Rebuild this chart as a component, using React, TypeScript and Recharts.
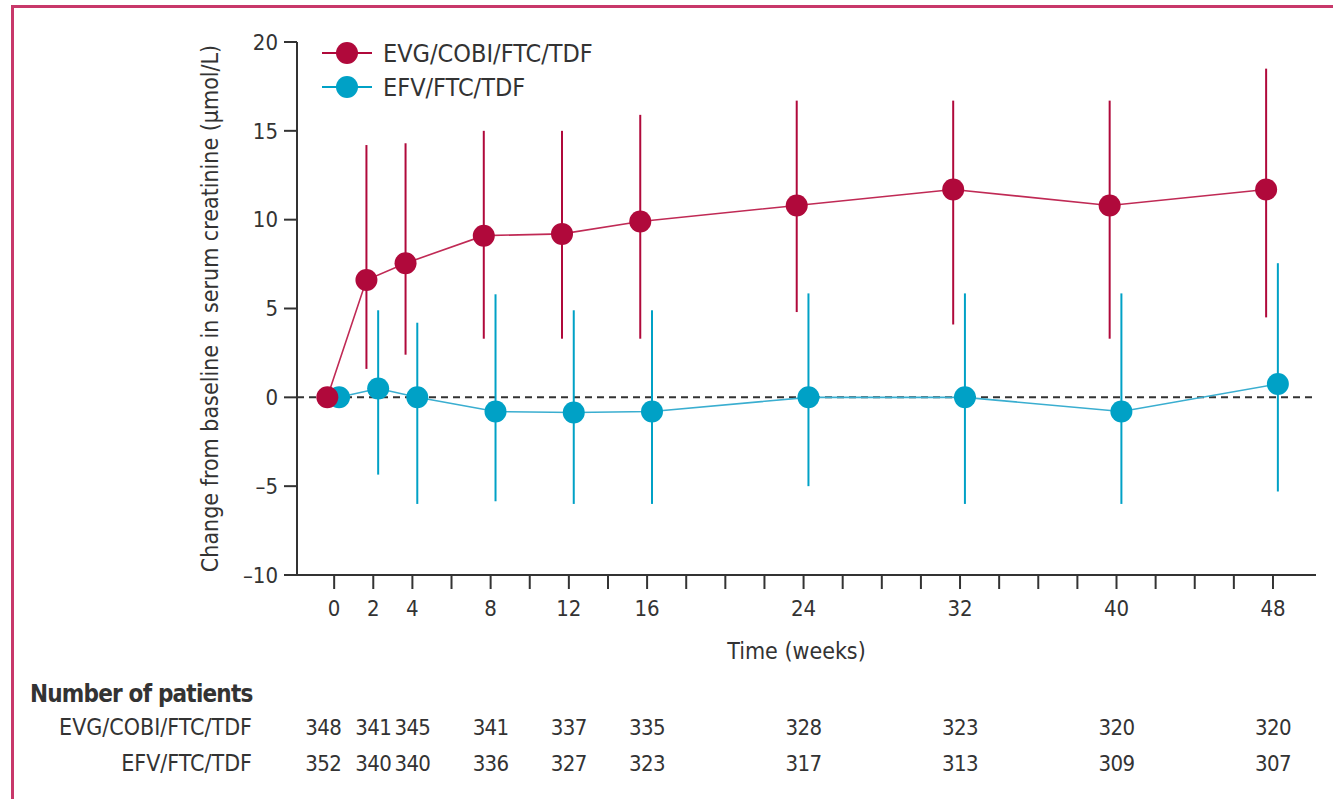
import React from 'react';
import {
  LineChart,
  Line,
  XAxis,
  YAxis,
  ErrorBar,
  ReferenceLine,
} from 'recharts';

// Weeks with a measurement (and a tick label)
const weeks = [0, 2, 4, 8, 12, 16, 24, 32, 40, 48];
// Tick marks are drawn every 2 weeks
const tickWeeks = [0, 2, 4, 6, 8, 10, 12, 14, 16, 18, 20, 22, 24, 26, 28, 30, 32, 34, 36, 38, 40, 42, 44, 46, 48];
const yTicks = [-10, -5, 0, 5, 10, 15, 20];

// EVG/COBI/FTC/TDF: mean change and error-bar limits (µmol/L)
const evgMean = [0, 6.6, 7.55, 9.1, 9.2, 9.9, 10.8, 11.7, 10.8, 11.7];
const evgUpper = [0, 14.2, 14.3, 15.0, 15.0, 15.9, 16.7, 16.7, 16.7, 18.5];
const evgLower = [0, 1.6, 2.4, 3.3, 3.3, 3.3, 4.8, 4.1, 3.3, 4.5];

// EFV/FTC/TDF
const efvMean = [0, 0.5, 0, -0.8, -0.85, -0.8, 0, 0, -0.8, 0.75];
const efvUpper = [0, 4.9, 4.2, 5.8, 4.9, 4.9, 5.85, 5.85, 5.85, 7.55];
const efvLower = [0, -4.35, -6.0, -5.85, -6.0, -6.0, -5.0, -6.0, -6.0, -5.3];

// Number of patients at each visit
const evgN = [348, 341, 345, 341, 337, 335, 328, 323, 320, 320];
const efvN = [352, 340, 340, 336, 327, 323, 317, 313, 309, 307];

const RED = '#b0093b';
const RED_LINE = '#c02a55';
const BLUE = '#00a1c6';
const BLUE_LINE = '#3aaed0';
const INK = '#333333';
const FRAME = '#c8386a';
const FONT = "'DejaVu Sans Condensed', 'Liberation Sans Narrow', 'Liberation Sans', sans-serif";
const X_DOMAIN: [number, number] = [-1.9, 50.2];

// the two arms are drawn slightly apart so the bars don't overlap
const EVG_SHIFT = -0.35;
const EFV_SHIFT = 0.25;

const buildSeries = (mean: number[], upper: number[], lower: number[], shift: number) =>
  weeks.map((w, i) => ({
    x: w + shift,
    y: mean[i],
    err: [mean[i] - lower[i], upper[i] - mean[i]],
  }));

const evgData = buildSeries(evgMean, evgUpper, evgLower, EVG_SHIFT);
const efvData = buildSeries(efvMean, efvUpper, efvLower, EFV_SHIFT);
// rows of the "number of patients" table, one entry per visit
const countRows = weeks.map((w, i) => ({ x: w, y: 0, evg: evgN[i], efv: efvN[i] }));

const CountTick = ({ x, y, payload, counts }: any) => {
  const i = weeks.indexOf(payload.value);
  if (i < 0) return null;
  return (
    <text
      x={x + (payload.value === 0 ? -11 : 0)}
      y={y}
      dy="0.71em"
      textAnchor="middle"
      fill={INK}
      fontSize={22}
      letterSpacing={-0.6}
      fontFamily={FONT}
    >
      {counts[i]}
    </text>
  );
};

const TimeTitle = ({ viewBox }: any) => (
  <text
    x={viewBox.x + viewBox.width / 2 - 10}
    y={viewBox.y + 84}
    textAnchor="middle"
    fill={INK}
    fontSize={23}
    fontFamily={FONT}
  >
    Time (weeks)
  </text>
);

const YTitle = ({ viewBox }: any) => {
  const cx = viewBox.x + 68;
  const cy = viewBox.y + viewBox.height / 2;
  return (
    <text
      x={cx}
      y={cy}
      transform={`rotate(-90, ${cx}, ${cy})`}
      textAnchor="middle"
      fill={INK}
      fontSize={23}
      fontFamily={FONT}
    >
      Change from baseline in serum creatinine (µmol/L)
    </text>
  );
};

const LegendRow = ({ color, label }: { color: string; label: string }) => (
  <div style={{ display: 'flex', alignItems: 'center', height: 34 }}>
    <svg width={52} height={24} style={{ marginRight: 10 }}>
      <line x1={1} y1={12} x2={51} y2={12} stroke={color} strokeWidth={2} />
      <circle cx={26} cy={12} r={11} fill={color} />
    </svg>
    <span>{label}</span>
  </div>
);

const App: React.FC = () => {
  return (
    <div
      style={{
        position: 'absolute',
        left: 0,
        top: 0,
        width: 1333,
        height: 799,
        overflow: 'hidden',
        background: '#ffffff',
        fontFamily: FONT,
        color: INK,
      }}
    >
      <div
        style={{
          position: 'absolute',
          left: 11,
          top: 5,
          width: 1340,
          height: 820,
          borderTop: `3px solid ${FRAME}`,
          borderLeft: `3px solid ${FRAME}`,
        }}
      />
      <div style={{ position: 'absolute', left: 0, top: 0 }}>
        <LineChart
          width={1333}
          height={790}
          margin={{ top: 42, right: 17, left: 150, bottom: 9 }}
        >
          {/* bottom axes are stacked by id: a_ sits on the plot, then b_, then c_ */}
          <XAxis
            xAxisId="a_time"
            type="number"
            dataKey="x"
            domain={X_DOMAIN}
            allowDataOverflow
            ticks={tickWeeks}
            interval={0}
            tickFormatter={(v: number) => (weeks.includes(v) ? String(v) : '')}
            height={134}
            tickSize={14}
            tickMargin={11}
            axisLine={{ stroke: INK, strokeWidth: 2 }}
            tickLine={{ stroke: INK, strokeWidth: 2 }}
            tick={{ fill: INK, fontSize: 22, fontFamily: FONT }}
            label={(props: any) => <TimeTitle {...props} />}
          />
          <XAxis
            xAxisId="b_evg"
            type="number"
            dataKey="x"
            domain={X_DOMAIN}
            allowDataOverflow
            ticks={weeks}
            interval={0}
            height={36}
            axisLine={false}
            tickLine={false}
            tickSize={0}
            tickMargin={10}
            tick={(props: any) => <CountTick {...props} counts={evgN} />}
            label={{ value: 'EVG/COBI/FTC/TDF', position: 'left', offset: 45, fill: INK, fontSize: 23, fontFamily: FONT }}
          />
          <XAxis
            xAxisId="c_efv"
            type="number"
            dataKey="x"
            domain={X_DOMAIN}
            allowDataOverflow
            ticks={weeks}
            interval={0}
            height={36}
            axisLine={false}
            tickLine={false}
            tickSize={0}
            tickMargin={10}
            tick={(props: any) => <CountTick {...props} counts={efvN} />}
            label={{ value: 'EFV/FTC/TDF', position: 'left', offset: 45, fill: INK, fontSize: 23, fontFamily: FONT }}
          />
          <YAxis
            type="number"
            domain={[-10, 20]}
            ticks={yTicks}
            interval={0}
            width={147}
            tickSize={13}
            tickMargin={6}
            tickFormatter={(v: number) => (v < 0 ? `–${-v}` : String(v))}
            axisLine={{ stroke: INK, strokeWidth: 2 }}
            tickLine={{ stroke: INK, strokeWidth: 2 }}
            tick={{ fill: INK, fontSize: 22, fontFamily: FONT }}
            label={(props: any) => <YTitle {...props} />}
          />
          <ReferenceLine xAxisId="a_time" y={0} stroke={INK} strokeWidth={2} strokeDasharray="7 5" />
          {/* invisible carriers so the table axes get their scale */}
          <Line xAxisId="b_evg" data={countRows} dataKey="y" stroke="none" dot={false} activeDot={false} isAnimationActive={false} />
          <Line xAxisId="c_efv" data={countRows} dataKey="y" stroke="none" dot={false} activeDot={false} isAnimationActive={false} />
          <Line
            xAxisId="a_time"
            data={efvData}
            dataKey="y"
            stroke={BLUE_LINE}
            strokeWidth={1.6}
            dot={{ r: 11, fill: BLUE, stroke: 'none' }}
            activeDot={false}
            isAnimationActive={false}
          >
            <ErrorBar dataKey="err" direction="y" width={0} stroke={BLUE} strokeWidth={2} />
          </Line>
          <Line
            xAxisId="a_time"
            data={evgData}
            dataKey="y"
            stroke={RED_LINE}
            strokeWidth={1.6}
            dot={{ r: 11, fill: RED, stroke: 'none' }}
            activeDot={false}
            isAnimationActive={false}
          >
            <ErrorBar dataKey="err" direction="y" width={0} stroke={RED} strokeWidth={2} />
          </Line>
        </LineChart>
      </div>
      <div style={{ position: 'absolute', left: 321, top: 36, fontSize: 25 }}>
        <LegendRow color={RED} label="EVG/COBI/FTC/TDF" />
        <LegendRow color={BLUE} label="EFV/FTC/TDF" />
      </div>
      <div
        style={{
          position: 'absolute',
          left: 30,
          top: 680,
          fontSize: 24,
          fontWeight: 'bold',
          letterSpacing: -0.8,
        }}
      >
        Number of patients
      </div>
    </div>
  );
};

export default App;
